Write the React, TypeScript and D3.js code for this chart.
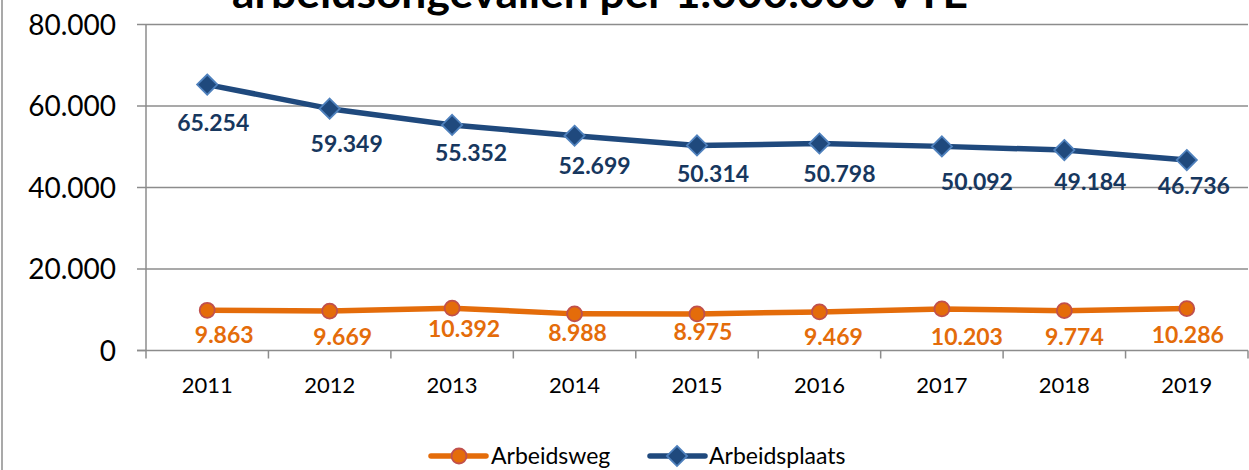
import React from 'react'
import * as d3 from 'd3'

const years = ['2011', '2012', '2013', '2014', '2015', '2016', '2017', '2018', '2019']
const arbeidsweg = [9863, 9669, 10392, 8988, 8975, 9469, 10203, 9774, 10286]
const arbeidsplaats = [65254, 59349, 55352, 52699, 50314, 50798, 50092, 49184, 46736]
const yTicks = [0, 20000, 40000, 60000, 80000]
const titleText = 'arbeidsongevallen per 1.000.000 VTE'

// label nudges (dx, dy) from each point, as placed in the original
const wegNudge = [[17, 24], [13, 26], [12, 21], [3, 19], [6, 18], [14, 25], [25, 28], [10, 26], [1, 26]]
const plaatsNudge = [[6, 38], [17, 35], [19, 28], [20, 30], [16, 28], [20, 30], [35, 35], [26, 32], [7, 26]]

const W = 1249
const H = 470
const left = 146
const right = 1248
const top = 24.5
const bottom = 350.5
const font = 'Lato, "Noto Sans", sans-serif'
const orange = '#E46C0A'
const blue = '#1F497D'
const blueText = '#17375E'

const fmt = (v: number) => d3.format(',')(v).replace(/,/g, '.')

export default function App () {
  const x = d3.scaleBand().domain(years).range([left, right])
  const y = d3.scaleLinear().domain([0, 80000]).range([bottom, top])
  const cx = (d: string) => (x(d) as number) + x.bandwidth() / 2

  const line = d3.line<number>()
    .x((_, i) => cx(years[i]))
    .y(d => y(d))

  const diamond = d3.symbol().type(d3.symbolDiamond2).size(260)

  return (
    <svg width={W} height={H} style={{ position: 'absolute', left: 0, top: 0, background: '#fff' }}
      fontFamily={font}>
      <line x1={2} x2={2} y1={0} y2={H} stroke='#8c8c8c' strokeWidth={1.5} />
      {/* title sits partly above the frame, as in the original */}
      <text x={600} y={8} textAnchor='middle' fontSize={42} fontWeight='bold' fill='#000'
        textLength={736} lengthAdjust='spacingAndGlyphs'>{titleText}</text>

      {yTicks.filter(t => t > 0).map(t => (
        <line key={'g' + t} x1={left} x2={right} y1={y(t)} y2={y(t)} stroke='#8c8c8c' strokeWidth={1.5} />
      ))}
      <line x1={left} x2={left} y1={top} y2={bottom} stroke='#8c8c8c' strokeWidth={1.5} />
      <line x1={left - 9} x2={right} y1={bottom} y2={bottom} stroke='#8c8c8c' strokeWidth={1.5} />
      {yTicks.map(t => (
        <g key={'y' + t}>
          <line x1={left - 9} x2={left} y1={y(t)} y2={y(t)} stroke='#8c8c8c' strokeWidth={1.5} />
          <text x={116} y={y(t)} dy='0.36em' textAnchor='end' fontSize={28} fill='#000'>{fmt(t)}</text>
        </g>
      ))}
      {years.map(d => (
        <line key={'t' + d} x1={x(d)} x2={x(d)} y1={bottom} y2={bottom + 8} stroke='#8c8c8c' strokeWidth={1.5} />
      ))}
      <line x1={right} x2={right} y1={bottom} y2={bottom + 8} stroke='#8c8c8c' strokeWidth={1.5} />
      {years.map(d => (
        <text key={'x' + d} x={cx(d)} y={385} dy='0.36em' textAnchor='middle' fontSize={22} fill='#000'>{d}</text>
      ))}

      <path d={line(arbeidsplaats) || ''} fill='none' stroke={blue} strokeWidth={5.5} strokeLinejoin='round' />
      {arbeidsplaats.map((v, i) => (
        <path key={'pd' + i} d={diamond() || ''} transform={`translate(${cx(years[i])},${y(v)})`}
          fill={blue} stroke='#4F81BD' strokeWidth={1.8} />
      ))}
      {arbeidsplaats.map((v, i) => (
        <text key={'pl' + i} x={cx(years[i]) + plaatsNudge[i][0]} y={y(v) + plaatsNudge[i][1]} dy='0.36em'
          textAnchor='middle' fontSize={23} fontWeight='bold' fill={blueText}>{fmt(v)}</text>
      ))}

      <path d={line(arbeidsweg) || ''} fill='none' stroke={orange} strokeWidth={5.5} strokeLinejoin='round' />
      {arbeidsweg.map((v, i) => (
        <circle key={'wc' + i} cx={cx(years[i])} cy={y(v)} r={7.5} fill={orange} stroke='#C0504D' strokeWidth={1.8} />
      ))}
      {arbeidsweg.map((v, i) => (
        <text key={'wl' + i} x={cx(years[i]) + wegNudge[i][0]} y={y(v) + wegNudge[i][1]} dy='0.36em'
          textAnchor='middle' fontSize={23} fontWeight='bold' fill={orange}>{fmt(v)}</text>
      ))}

      <g transform='translate(0,456)'>
        <line x1={431} x2={486} y1={0} y2={0} stroke={orange} strokeWidth={5.5} strokeLinecap='round' />
        <circle cx={459} cy={0} r={7.5} fill={orange} stroke='#C0504D' strokeWidth={1.8} />
        <text x={491} y={0} dy='0.36em' fontSize={23} fill='#000'>Arbeidsweg</text>
        <line x1={650} x2={705} y1={0} y2={0} stroke={blue} strokeWidth={5.5} strokeLinecap='round' />
        <path d={diamond() || ''} transform='translate(677,0)' fill={blue} stroke='#4F81BD' strokeWidth={1.8} />
        <text x={709} y={0} dy='0.36em' fontSize={23} fill='#000'>Arbeidsplaats</text>
      </g>
    </svg>
  )
}
